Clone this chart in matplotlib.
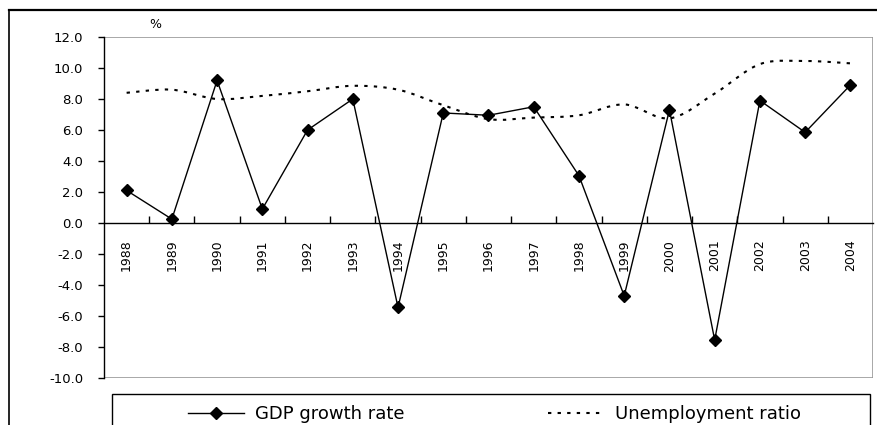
import matplotlib
matplotlib.use("Agg")
import matplotlib.pyplot as plt
from matplotlib.path import Path
from matplotlib.patches import PathPatch, Rectangle
from matplotlib.lines import Line2D

years = ["1988", "1989", "1990", "1991", "1992", "1993", "1994", "1995", "1996",
         "1997", "1998", "1999", "2000", "2001", "2002", "2003", "2004"]
gdp_growth = [2.1, 0.25, 9.2, 0.9, 6.0, 8.0, -5.45, 7.1, 6.95, 7.5, 3.05, -4.7,
              7.3, -7.55, 7.9, 5.85, 8.9]
unemployment = [8.4, 8.6, 8.0, 8.2, 8.5, 8.85, 8.6, 7.6, 6.7, 6.8, 6.95, 7.65,
                6.75, 8.35, 10.25, 10.45, 10.3]
y_ticks = [-10, -8, -6, -4, -2, 0, 2, 4, 6, 8, 10, 12]

W, H = 878, 425
fig = plt.figure(figsize=(W / 100, H / 100), dpi=100)
plt.rcParams['font.family'] = ['DejaVu Sans']

# plot area in pixel terms
L, R, T, B = 104, 873, 37, 378
ax = fig.add_axes([L / W, 1 - B / H, (R - L) / W, (B - T) / H])
ax.set_xlim(-0.5, len(years) - 0.5)
ax.set_ylim(-10, 12)

x = list(range(len(years)))

# smoothed dotted curve for the unemployment series (Catmull-Rom style Bezier)
def smooth_path(xs, ys):
    pts = list(zip(xs, ys))
    verts = [pts[0]]
    codes = [Path.MOVETO]
    n = len(pts)
    for i in range(n - 1):
        p0 = pts[i - 1] if i > 0 else pts[i]
        p1 = pts[i]
        p2 = pts[i + 1]
        p3 = pts[i + 2] if i + 2 < n else pts[i + 1]
        c1 = (p1[0] + (p2[0] - p0[0]) / 6, p1[1] + (p2[1] - p0[1]) / 6)
        c2 = (p2[0] - (p3[0] - p1[0]) / 6, p2[1] - (p3[1] - p1[1]) / 6)
        verts += [c1, c2, p2]
        codes += [Path.CURVE4] * 3
    return Path(verts, codes)

dot_style = dict(linestyle=(0, (1.6, 3.0)), linewidth=1.5, color="black")
ax.add_patch(PathPatch(smooth_path(x, unemployment), fill=False, **dot_style))

ax.plot(x, gdp_growth, color="black", linewidth=1.0, marker="D",
        markersize=6.5, markerfacecolor="black", markeredgecolor="black")

# axes styling
for s in ("top", "right"):
    ax.spines[s].set_visible(False)
ax.spines["left"].set_color("black")
ax.spines["left"].set_linewidth(1.0)
ax.spines["bottom"].set_position(("data", 0))
ax.spines["bottom"].set_color("black")
ax.spines["bottom"].set_linewidth(1.0)
ax.add_patch(Rectangle((0, 0), 1, 1, transform=ax.transAxes, fill=False,
                       edgecolor="#999999", linewidth=1.2, zorder=0))

ax.set_yticks(y_ticks)
ax.set_yticklabels([f"{v:.1f}" for v in y_ticks], fontsize=9.5)
ax.tick_params(axis="y", direction="out", length=4, width=1, pad=11)

ax.set_xticks([i + 0.5 for i in x[:-1]])
ax.set_xticklabels([])
ax.tick_params(axis="x", which="major", direction="in", length=5, width=1)
ax.set_xticks(x, minor=True)
ax.set_xticklabels(years, minor=True, rotation=90, fontsize=9)
ax.tick_params(axis="x", which="minor", length=0, pad=12)

fig.text(155 / W, 1 - 25 / H, "%", fontsize=9, ha="center", va="center")

# outer frame lines
fig.add_artist(Line2D([9 / W, 1], [1 - 10 / H, 1 - 10 / H], color="black", linewidth=1.6))
fig.add_artist(Line2D([9 / W, 9 / W], [0, 1 - 10 / H], color="black", linewidth=1.2))

# legend box
fig.add_artist(Rectangle((112 / W, -0.05), (870 - 112) / W, (0.05 + 1 - 394 / H),
                         transform=fig.transFigure, fill=False, edgecolor="black",
                         linewidth=1.0))
handles = [Line2D([], [], color="black", linewidth=1.0, marker="D", markersize=6.5),
           Line2D([], [], **dot_style)]
fig.legend(handles, ["GDP growth rate", "Unemployment ratio"], ncol=2,
           loc="center", bbox_to_anchor=(494.5 / W, 1 - 414 / H), frameon=False,
           fontsize=13, handlelength=3.1, handletextpad=0.6, columnspacing=8.0)

fig.savefig("out.png", dpi=100)
